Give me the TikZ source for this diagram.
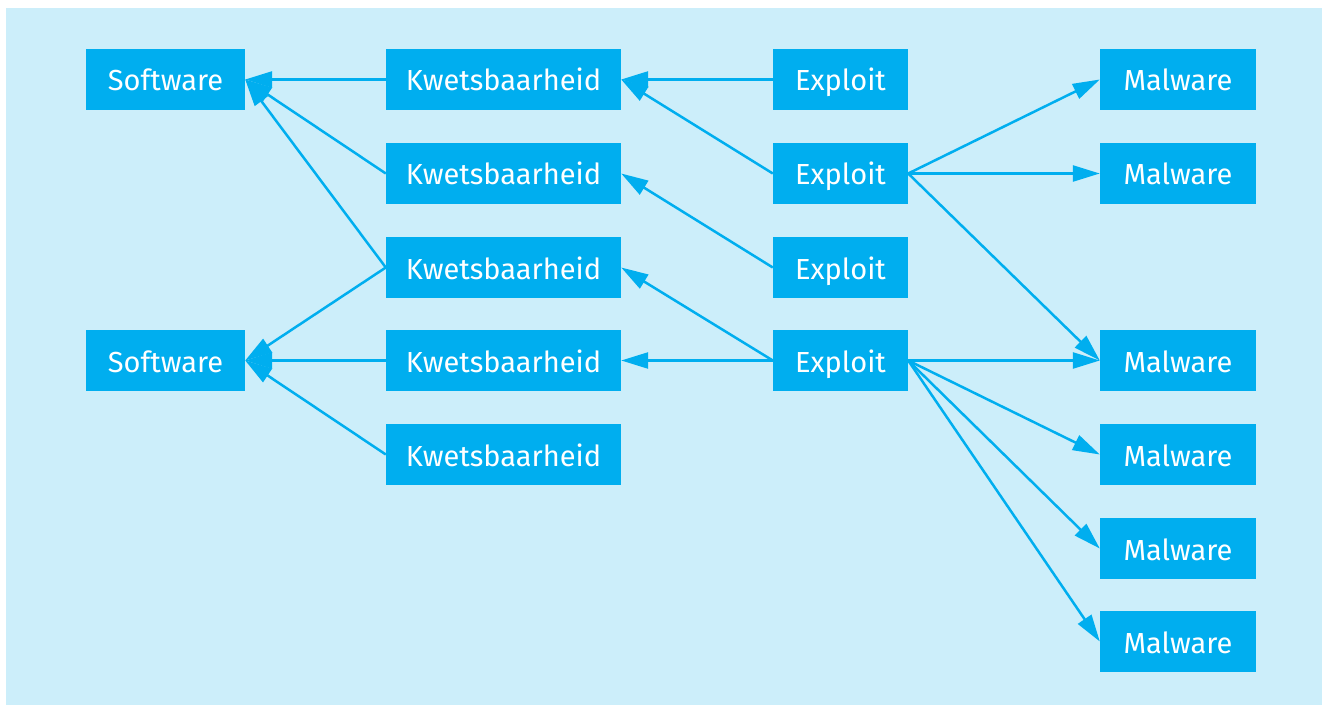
\documentclass[tikz,border=0pt]{standalone}
\usepackage{fontspec}
\setmainfont{Fira Sans}
\usetikzlibrary{arrows.meta}
\definecolor{boxcyan}{RGB}{0,174,239}
\definecolor{bgcyan}{RGB}{204,238,250}

\begin{document}
\begin{tikzpicture}[x=1pt,y=-1pt,
  box/.style={fill=boxcyan, text=white, minimum height=61pt, inner sep=0pt,
    text height=23pt, text depth=0pt, font=\fontsize{29}{34}\selectfont},
  link/.style={boxcyan, line width=2.5pt, -{Triangle[length=27pt,width=16pt]}}]
\useasboundingbox (0,0) rectangle (1323,706);
\fill[bgcyan] (6,8) rectangle (1322,705);
% software
\node[box, minimum width=159pt] (s1) at (165.5,79.5) {Software};
\node[box, minimum width=159pt] (s2) at (165.5,360.5) {Software};
% kwetsbaarheden
\foreach \y [count=\i] in {79.5,173.5,267.5,360.5,454.5}{
\node[box, minimum width=235pt] (k\i) at (503.5,\y) {Kwetsbaarheid};
}
% exploits
\foreach \y [count=\i] in {79.5,173.5,267.5,360.5}{
\node[box, minimum width=135pt] (e\i) at (840.5,\y) {Exploit};
}
% malware
\foreach \y [count=\i] in {79.5,173.5,360.5,454.5,548.5,641.5}{
\node[box, minimum width=156pt] (m\i) at (1178,\y) {Malware};
}
\foreach \a/\b in {k1/s1,k2/s1,k3/s1,k3/s2,k4/s2,k5/s2,e1/k1,e2/k1,e3/k2,e4/k3,e4/k4}{
\draw[link] (\a.west) -- (\b.east);
}
\foreach \a/\b in {e2/m1,e2/m2,e2/m3,e4/m3,e4/m4,e4/m5,e4/m6}{
\draw[link] (\a.east) -- (\b.west);
}
\end{tikzpicture}
\end{document}
